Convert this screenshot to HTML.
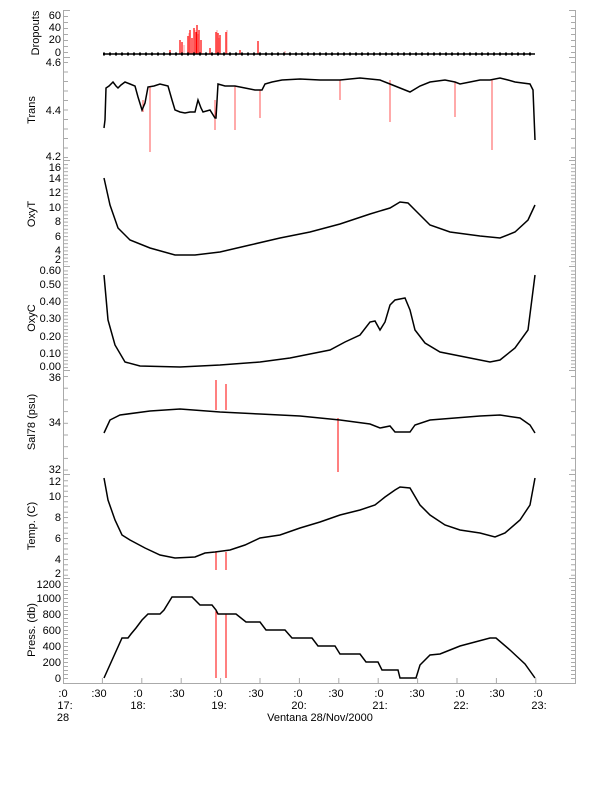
<!DOCTYPE html>
<html><head><meta charset="utf-8"><style>
body{margin:0;background:#fff}
svg{display:block}
text{font-family:"Liberation Sans",sans-serif;font-size:11px;fill:#000}
</style></head><body>
<svg width="612" height="785" viewBox="0 0 612 785">
<defs>
<pattern id="p1" patternUnits="userSpaceOnUse" x="0" y="10" width="10" height="6"><line x1="0" y1="0.5" x2="10" y2="0.5" stroke="#aaa"/></pattern>
<pattern id="p2" patternUnits="userSpaceOnUse" x="0" y="62" width="10" height="9.5"><line x1="0" y1="0.5" x2="10" y2="0.5" stroke="#aaa"/></pattern>
<pattern id="p3" patternUnits="userSpaceOnUse" x="0" y="164" width="10" height="3.6"><line x1="0" y1="0.5" x2="10" y2="0.5" stroke="#aaa"/></pattern>
<pattern id="p4" patternUnits="userSpaceOnUse" x="0" y="267" width="10" height="3.45"><line x1="0" y1="0.5" x2="10" y2="0.5" stroke="#aaa"/></pattern>
<pattern id="p5" patternUnits="userSpaceOnUse" x="0" y="376" width="10" height="11.7"><line x1="0" y1="0.5" x2="10" y2="0.5" stroke="#aaa"/></pattern>
<pattern id="p6" patternUnits="userSpaceOnUse" x="0" y="475" width="10" height="5.25"><line x1="0" y1="0.5" x2="10" y2="0.5" stroke="#aaa"/></pattern>
<pattern id="p7" patternUnits="userSpaceOnUse" x="0" y="582" width="10" height="4"><line x1="0" y1="0.5" x2="10" y2="0.5" stroke="#aaa"/></pattern>
</defs>
<rect x="64" y="12" width="4" height="44" fill="url(#p1)"/><rect x="571" y="12" width="4" height="44" fill="url(#p1)"/>
<rect x="64" y="60" width="4" height="99" fill="url(#p2)"/><rect x="571" y="60" width="4" height="99" fill="url(#p2)"/>
<rect x="64" y="163" width="4" height="102" fill="url(#p3)"/><rect x="571" y="163" width="4" height="102" fill="url(#p3)"/>
<rect x="64" y="269" width="4" height="100" fill="url(#p4)"/><rect x="571" y="269" width="4" height="100" fill="url(#p4)"/>
<rect x="64" y="374" width="4" height="99" fill="url(#p5)"/><rect x="571" y="374" width="4" height="99" fill="url(#p5)"/>
<rect x="64" y="477" width="4" height="100" fill="url(#p6)"/><rect x="571" y="477" width="4" height="100" fill="url(#p6)"/>
<rect x="64" y="581" width="4" height="101" fill="url(#p7)"/><rect x="571" y="581" width="4" height="101" fill="url(#p7)"/>
<g stroke="#aaa" stroke-width="1" fill="none">
<line x1="63.5" y1="10" x2="63.5" y2="683.5"/>
<line x1="575.5" y1="10" x2="575.5" y2="683.5"/>
<line x1="63" y1="683.5" x2="576" y2="683.5"/>
<path d="M63 57.5H70M63 160.5H70M63 266.5H70M63 370.5H70M63 474.5H70M63 578.5H70M569 57.5H576M569 160.5H576M569 266.5H576M569 370.5H576M569 474.5H576M569 578.5H576"/>
<path d="M63 10.5H70M569 10.5H576"/>
<path d="M102.4 683v-5M141.8 683v-5M181.2 683v-5M220.6 683v-5M260 683v-5M299.4 683v-5M338.8 683v-5M378.2 683v-5M417.6 683v-5M457 683v-5M496.4 683v-5M535.8 683v-5"/>
</g>
<g font-size="12" text-anchor="middle">
<text transform="translate(39,33) rotate(-90)">Dropouts</text>
<text transform="translate(35,110) rotate(-90)">Trans</text>
<text transform="translate(35,214) rotate(-90)">OxyT</text>
<text transform="translate(35,318) rotate(-90)">OxyC</text>
<text transform="translate(35,422) rotate(-90)">Sal78 (psu)</text>
<text transform="translate(35,526) rotate(-90)">Temp. (C)</text>
<text transform="translate(35,630) rotate(-90)">Press. (db)</text>
</g>
<g text-anchor="end">
<text x="61" y="19">60</text><text x="61" y="31">40</text><text x="61" y="43">20</text><text x="61" y="56">0</text>
<text x="61" y="66">4.6</text><text x="61" y="114">4.4</text><text x="61" y="160">4.2</text>
<text x="61" y="171">16</text><text x="61" y="182">14</text><text x="61" y="196">12</text><text x="61" y="211">10</text><text x="61" y="225">8</text><text x="61" y="240">6</text><text x="61" y="254">4</text><text x="61" y="263">2</text>
<text x="61" y="274">0.60</text><text x="61" y="288">0.50</text><text x="61" y="305">0.40</text><text x="61" y="322">0.30</text><text x="61" y="340">0.20</text><text x="61" y="357">0.10</text><text x="61" y="370">0.00</text>
<text x="61" y="381">36</text><text x="61" y="426">34</text><text x="61" y="473">32</text>
<text x="61" y="485">12</text><text x="61" y="500">10</text><text x="61" y="521">8</text><text x="61" y="542">6</text><text x="61" y="563">4</text><text x="61" y="577">2</text>
<text x="61" y="588">1200</text><text x="61" y="602">1000</text><text x="61" y="618">800</text><text x="61" y="634">600</text><text x="61" y="650">400</text><text x="61" y="666">200</text><text x="61" y="682">0</text>
</g>
<g text-anchor="middle">
<text x="63" y="697">:0</text><text x="99" y="697">:30</text><text x="138" y="697">:0</text><text x="177" y="697">:30</text><text x="218" y="697">:0</text><text x="256" y="697">:30</text><text x="298" y="697">:0</text><text x="336" y="697">:30</text><text x="379" y="697">:0</text><text x="417" y="697">:30</text><text x="460" y="697">:0</text><text x="497" y="697">:30</text><text x="538" y="697">:0</text>
<text x="65" y="709">17:</text><text x="138" y="709">18:</text><text x="219" y="709">19:</text><text x="299" y="709">20:</text><text x="380" y="709">21:</text><text x="461" y="709">22:</text><text x="539" y="709">23:</text>
<text x="63" y="721">28</text>
<text x="320" y="721">Ventana 28/Nov/2000</text>
</g>
<g stroke="#f00" stroke-width="1.2">
<path d="M180 54V40M182 54V42M188 54V36M190 54V30M192 54V38M194 54V28M196 54V32M197 54V25M199 54V30M201 54V40M216 54V32M218 54V33M220 54V35M226 54V32M258 54V41M210 54V48M240 54V50M170 54V50"/>
</g>
<g stroke="#f99" stroke-width="1"><path d="M184 54V45M189 54V33M195 54V30M198 54V34M217 54V30M219 54V38M227 54V30M285 54V51"/></g>
<line x1="104" y1="54" x2="535" y2="54" stroke="#000" stroke-width="1.5"/>
<path d="M104 52.5v3M110 52.5v3M116 52.5v3M122 52.5v3M128 52.5v3M134 52.5v3M140 52.5v3M146 52.5v3M152 52.5v3M158 52.5v3M164 52.5v3M170 52.5v3M176 52.5v3M182 52.5v3M188 52.5v3M194 52.5v3M200 52.5v3M206 52.5v3M212 52.5v3M218 52.5v3M224 52.5v3M230 52.5v3M236 52.5v3M242 52.5v3M248 52.5v3M254 52.5v3M260 52.5v3M266 52.5v3M272 52.5v3M278 52.5v3M284 52.5v3M290 52.5v3M296 52.5v3M302 52.5v3M308 52.5v3M314 52.5v3M320 52.5v3M326 52.5v3M332 52.5v3M338 52.5v3M344 52.5v3M350 52.5v3M356 52.5v3M362 52.5v3M368 52.5v3M374 52.5v3M380 52.5v3M386 52.5v3M392 52.5v3M398 52.5v3M404 52.5v3M410 52.5v3M416 52.5v3M422 52.5v3M428 52.5v3M434 52.5v3M440 52.5v3M446 52.5v3M452 52.5v3M458 52.5v3M464 52.5v3M470 52.5v3M476 52.5v3M482 52.5v3M488 52.5v3M494 52.5v3M500 52.5v3M506 52.5v3M512 52.5v3M518 52.5v3M524 52.5v3M530 52.5v3" stroke="#000" stroke-width="2"/>
<g stroke="#f55" stroke-width="1"><path d="M150 86V152M235 86V130M260 90V118M340 80V100M390 80V122M455 82V117M492 80V150M143 100V112M215 100V130"/></g>
<polyline fill="none" stroke="#000" stroke-width="1.5" points="104,128 105,120 106,88 109,86 113,82 116,86 118,88 121,85 125,82 130,84 135,86 138,97 142,110 145,103 148,87 154,86 160,84 168,86 172,100 175,110 180,112 185,113 190,112 195,112 198,100 201,108 203,112 210,110 215,118 216,118 218,84 225,86 235,86 245,88 255,90 262,90 265,84 272,82 282,80 300,79 320,80 340,80 360,78 380,80 390,84 400,88 410,92 420,86 430,82 445,80 455,82 460,84 470,82 480,80 490,80 500,78 508,80 515,82 530,84 533,90 535,140"/>
<polyline fill="none" stroke="#000" stroke-width="1.5" points="104,178 110,205 118,228 130,240 150,248 175,255 195,255 220,252 250,245 280,238 310,232 340,224 370,214 390,208 400,202 408,203 415,210 430,225 450,232 480,236 500,238 515,232 528,220 535,205"/>
<polyline fill="none" stroke="#000" stroke-width="1.5" points="104,275 108,320 115,345 125,362 140,366 180,367 220,365 260,362 290,358 310,354 330,350 345,342 360,335 370,322 375,321 380,330 385,322 390,305 395,300 405,298 410,310 415,330 425,343 440,352 470,358 490,362 500,360 515,348 528,330 535,275"/>
<g stroke="#f00" stroke-width="1"><path d="M216 410V380M226 410V384M338 418V472"/></g>
<polyline fill="none" stroke="#000" stroke-width="1.5" points="104,433 110,420 120,415 150,411 180,409 220,412 260,414 300,416 340,420 370,424 380,428 390,426 395,432 410,432 415,425 430,420 480,416 500,415 520,418 530,425 535,433"/>
<g stroke="#f00" stroke-width="1"><path d="M216 552V570M226 552V570"/></g>
<polyline fill="none" stroke="#000" stroke-width="1.5" points="104,478 108,500 115,520 122,535 130,540 145,548 160,555 175,558 195,557 205,553 215,552 230,550 245,545 260,538 280,535 300,528 320,522 340,515 360,510 375,505 385,497 395,490 400,487 410,488 420,505 430,515 445,525 460,530 480,533 495,537 505,533 520,520 530,505 535,478"/>
<g stroke="#f00" stroke-width="1"><path d="M216 610V678M226 614V678"/></g>
<polyline fill="none" stroke="#000" stroke-width="1.5" points="104,678 122,638 128,638 131,634 136,628 142,620 148,614 160,614 164,610 172,597 192,597 200,605 212,605 216,610 218,614 236,614 246,622 260,622 266,630 285,630 292,638 312,638 318,646 335,646 340,654 360,654 366,662 378,662 382,670 398,670 400,678 416,678 420,665 430,655 440,654 450,650 460,646 475,642 490,638 496,638 510,650 525,664 535,678"/>
</svg>
</body></html>
